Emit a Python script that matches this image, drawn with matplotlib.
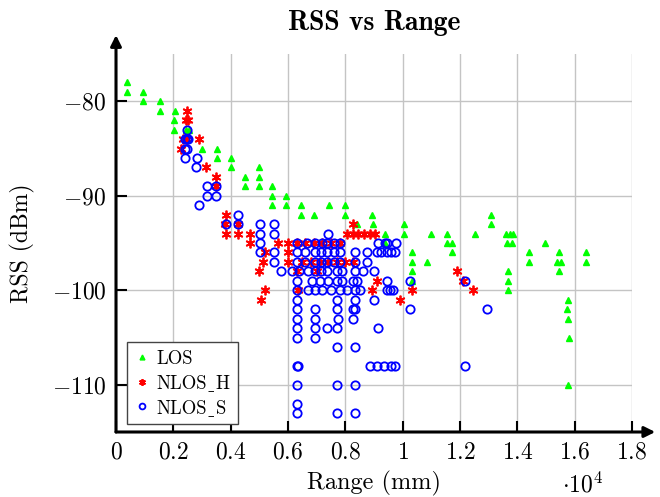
import matplotlib
matplotlib.use('Agg')
import matplotlib.pyplot as plt

plt.rcParams['font.family'] = ['cmr10', 'DejaVu Serif']
plt.rcParams['mathtext.fontset'] = 'cm'
plt.rcParams['axes.formatter.use_mathtext'] = True

# LOS (range in mm, RSS in dBm)
los_x = [400, 400, 950, 950, 1530, 1530, 2050, 2020, 2020, 2440, 2540,
         3000, 3520, 3520, 4010, 4010, 4980, 4490, 4980, 4490, 4980, 5430,
         5430, 5920, 5430, 5920, 6450, 7420, 7980, 6450, 6900, 7980, 8920,
         8400, 8950, 10030, 9370, 10030, 10980, 11530, 12510, 13070, 13070,
         13600, 13730, 13850, 13640, 13800, 14980, 11710, 11560, 9370,
         11710, 10310, 14420, 15470, 16380, 10310, 10840, 14420, 15400,
         15540, 16380, 10310, 15470, 13690, 13690, 13690, 10310, 15780,
         15720, 15780, 15800, 15750]
los_y = [-78, -79, -79, -80, -80, -81, -81, -82, -83, -83, -83,
         -85, -85, -86, -86, -87, -87, -88, -88, -89, -89, -89,
         -90, -90, -91, -91, -91, -91, -91, -92, -92, -92, -92,
         -93, -93, -93, -94, -94, -94, -94, -94, -92, -93,
         -94, -94, -94, -95, -95, -95, -95, -95, -95,
         -96, -96, -96, -96, -96, -97, -97, -97, -97,
         -97, -97, -98, -98, -98, -99, -100, -99, -101,
         -102, -103, -105, -110]

# NLOS_H
nlos_h_x = [2470, 2440, 2500, 2350, 2470, 2900, 2260, 3130, 3480, 3480,
            3830, 3790, 4250, 3830, 4250, 4670, 4670, 5640, 6000, 6300,
            6600, 6900, 7200, 7500, 7800, 5190, 6000, 5120, 6000, 6500,
            6800, 7100, 7400, 7700, 8000, 8260, 4980, 6300, 7000, 5190,
            6340, 5050, 8260, 8050, 8250, 8450, 8650, 8850, 9020, 9090,
            8920, 9890, 10310, 11880, 12090, 12470]
nlos_h_y = [-81, -82, -82, -84, -84, -84, -85, -87, -88, -89,
            -92, -93, -93, -94, -94, -94, -95, -95, -95, -95,
            -95, -95, -95, -95, -95, -96, -96, -97, -97, -97,
            -97, -97, -97, -97, -97, -97, -98, -98, -98, -100,
            -100, -101, -93, -94, -94, -94, -94, -94, -94, -99,
            -100, -101, -100, -98, -99, -100]

# NLOS_S
nlos_s_x = [2470,
            2400, 2470, 2520,
            2400, 2470,
            2400, 2820,
            2780,
            3170, 3480,
            3170, 3480,
            2890,
            4250,
            3830, 4250, 5020, 5500,
            5020, 5500, 7390,
            5020, 6300, 6650, 6930, 7200, 7350, 7600, 7800, 9130, 9370, 9450, 9750,
            5020, 5500, 6300, 6600, 6930, 7150, 7350, 7600, 7800, 8330, 8750,
            9090, 9250, 9450, 9600, 9720,
            5500, 6300, 6600, 6930, 7150, 7350, 7600, 7800, 8330, 8750,
            5750, 6130, 6400, 6700, 6930, 7150, 7350, 7700, 7900, 8330, 8600, 8990,
            6300, 6850, 7100, 7390, 7700, 7900, 8260, 8400, 9440, 10240, 12190,
            6300, 6700, 6930, 7200, 7500, 7800, 8050, 8330, 8500, 9440, 9550, 9650,
            6300, 7700, 8330, 8990,
            6300, 6930, 7700, 8260, 8330, 10240, 12930,
            6300, 6930, 7750, 8260,
            6300, 6930, 7350, 7700, 9130,
            6300, 6930,
            7700, 8330,
            6300, 6350, 8850, 9100, 9350, 9600, 9720, 12190,
            6300, 7700, 8330,
            6300,
            6300, 7700, 8330]
nlos_s_y = [-83,
            -84, -84, -84,
            -85, -85,
            -86, -86,
            -87,
            -89, -89,
            -90, -90,
            -91,
            -92,
            -93, -93, -93, -93,
            -94, -94, -94,
            -95, -95, -95, -95, -95, -95, -95, -95, -95, -95, -95, -95,
            -96, -96, -96, -96, -96, -96, -96, -96, -96, -96, -96,
            -96, -96, -96, -96, -96,
            -97, -97, -97, -97, -97, -97, -97, -97, -97, -97,
            -98, -98, -98, -98, -98, -98, -98, -98, -98, -98, -98, -98,
            -99, -99, -99, -99, -99, -99, -99, -99, -99, -99, -99,
            -100, -100, -100, -100, -100, -100, -100, -100, -100, -100, -100, -100,
            -101, -101, -101, -101,
            -102, -102, -102, -102, -102, -102, -102,
            -103, -103, -103, -103,
            -104, -104, -104, -104, -104,
            -105, -105,
            -106, -106,
            -108, -108, -108, -108, -108, -108, -108, -108,
            -110, -110, -110,
            -112,
            -113, -113, -113]

xticks = [0, 2000, 4000, 6000, 8000, 10000, 12000, 14000, 16000, 18000]
xtick_labels = ['$0$', '$0.2$', '$0.4$', '$0.6$', '$0.8$', '$1$', '$1.2$',
                '$1.4$', '$1.6$', '$1.8$']
yticks = [-110, -100, -90, -80]
ytick_labels = ['$-110$', '$-100$', '$-90$', '$-80$']

# cmr10 has no real underscore glyph, so use a low macron from the fallback font
labels = ['LOS', 'NLOS\u02cdH', 'NLOS\u02cdS']

fig = plt.figure(figsize=(6.6, 4.97), dpi=100)
ax = fig.add_axes([116 / 660, 1 - 432 / 497, 516 / 660, 378 / 497])

ax.plot(los_x, los_y, ls='none', marker='^', ms=5, color='#00ff00',
        mec='#00ff00', label=labels[0])
ax.plot(nlos_h_x, nlos_h_y, ls='none', marker=(6, 2, 0), ms=7, color='red',
        mew=1.3, label=labels[1])
ax.plot(nlos_s_x, nlos_s_y, ls='none', marker='o', ms=6, mfc='none',
        mec='#0000ff', mew=1.3, label=labels[2])

ax.set_xlim(0, 18000)
ax.set_ylim(-115, -75)
ax.set_xticks(xticks)
ax.set_xticklabels(xtick_labels)
ax.set_yticks(yticks)
ax.set_yticklabels(ytick_labels)
ax.tick_params(direction='in', length=8, width=1.5, labelsize=17, pad=7)
ax.grid(True, color='#c4c4c4', lw=1)
ax.set_axisbelow(True)
for s in ax.spines.values():
    s.set_visible(False)

# axis lines with arrow heads
ax.annotate('', xy=(1.045, 0), xytext=(0, 0), xycoords='axes fraction',
            arrowprops=dict(arrowstyle='-|>', color='k', lw=2.2,
                            mutation_scale=16, shrinkA=0, shrinkB=0),
            annotation_clip=False)
ax.annotate('', xy=(0, 1.05), xytext=(0, 0), xycoords='axes fraction',
            arrowprops=dict(arrowstyle='-|>', color='k', lw=2.2,
                            mutation_scale=16, shrinkA=0, shrinkB=0),
            annotation_clip=False)

ax.set_title('RSS vs Range', fontfamily='cmb10', fontsize=20, pad=17)
ax.set_xlabel('Range (mm)', fontsize=17.5, labelpad=5)
ax.set_ylabel('RSS (dBm)', fontsize=17, labelpad=12)
fig.text(583 / 660, 1 - 485 / 497, r'$\cdot 10^4$', ha='center',
         va='center', fontsize=17)

leg = ax.legend(loc='lower left', bbox_to_anchor=(0.021, 0.021),
                borderaxespad=0, fontsize=13.5, fancybox=False,
                framealpha=1, edgecolor='#444444', markerscale=0.7,
                handlelength=0.8, handletextpad=0.4, labelspacing=0.35,
                borderpad=0.4)
leg.get_frame().set_linewidth(1)

fig.savefig('out.png', dpi=100)
